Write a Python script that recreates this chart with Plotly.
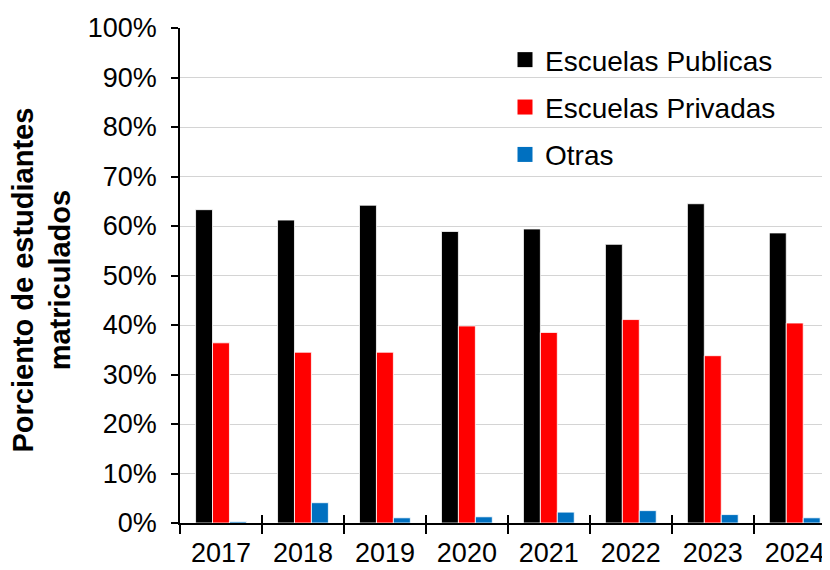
import plotly.graph_objects as go

years = ["2017", "2018", "2019", "2020", "2021", "2022", "2023", "2024"]
publicas = [63.3, 61.2, 64.2, 58.9, 59.4, 56.3, 64.5, 58.6]
privadas = [36.4, 34.5, 34.5, 39.8, 38.5, 41.1, 33.8, 40.4]
otras = [0.3, 4.1, 1.05, 1.25, 2.2, 2.5, 1.7, 1.05]

series_names = ["Escuelas Publicas", "Escuelas Privadas", "Otras"]
series_values = [publicas, privadas, otras]
series_colors = ["#000000", "#FF0000", "#0070C0"]

FONT = "Liberation Sans, Arial, sans-serif"

fig = go.Figure()
for i, (name, vals, col) in enumerate(zip(series_names, series_values, series_colors)):
    fig.add_trace(go.Bar(
        x=years, y=[v / 100 for v in vals], name=name,
        marker=dict(color=col, line=dict(color="#ffffff", width=0.8)),
        showlegend=False,
    ))
# legend entries with larger square symbols
for i, (name, col) in enumerate(zip(series_names, series_colors)):
    fig.add_trace(go.Scatter(
        x=[years[0]], y=[None], name=name, mode="markers",
        marker=dict(symbol="square", size=15, color=col),
        legendgroup="g%d" % i, showlegend=True, hoverinfo="skip",
    ))

# invisible trace for inside ticks on overlay axis
fig.add_trace(go.Scatter(x=years, y=[None] * len(years), xaxis="x2", yaxis="y",
                         showlegend=False, hoverinfo="skip", mode="markers"))

# page body has an 8px default margin, so the figure is sized/offset accordingly
fig.update_layout(
    width=822, height=562,
    margin=dict(l=172, r=0, t=20, b=47),
    paper_bgcolor="white", plot_bgcolor="white",
    font=dict(family=FONT, size=27, color="black"),
    barmode="group", bargap=0.38, bargroupgap=0,
    showlegend=True,
    legend=dict(x=0.5, y=0.986, xanchor="left", yanchor="top",
                bgcolor="rgba(0,0,0,0)", font=dict(size=28),
                traceorder="grouped", tracegroupgap=8),
    xaxis=dict(type="category", categoryorder="array", categoryarray=years,
               range=[-0.5, 7.43], tickson="boundaries", automargin=False,
               ticks="outside", ticklen=9, tickwidth=1.5, tickcolor="black",
               showline=True, linecolor="black", linewidth=1.5,
               showgrid=False, tickfont=dict(size=27), ticklabelstandoff=5),
    xaxis2=dict(type="category", categoryorder="array", categoryarray=years,
                overlaying="x", matches="x", range=[-0.5, 7.43], tickson="boundaries",
                ticks="inside", ticklen=8, tickwidth=1.5, tickcolor="black",
                automargin=False,
                showticklabels=False, showline=False, showgrid=False, side="bottom"),
    yaxis=dict(range=[0, 1], dtick=0.1, tickformat=".0%", automargin=False,
               ticks="outside", ticklen=7, tickwidth=1.5, tickcolor="black",
               showline=True, linecolor="black", linewidth=1.5,
               showgrid=True, gridcolor="#d4d4d4", gridwidth=1,
               zeroline=False, ticklabelstandoff=9, tickfont=dict(size=27)),
)

fig.add_annotation(
    text="<b>Porciento de estudiantes<br>matriculados</b>",
    xref="paper", yref="paper", x=-0.213, y=0.491,
    xanchor="center", yanchor="middle", textangle=-90, showarrow=False,
    font=dict(family=FONT, size=29, color="black"),
)

fig.write_html("out.html")
